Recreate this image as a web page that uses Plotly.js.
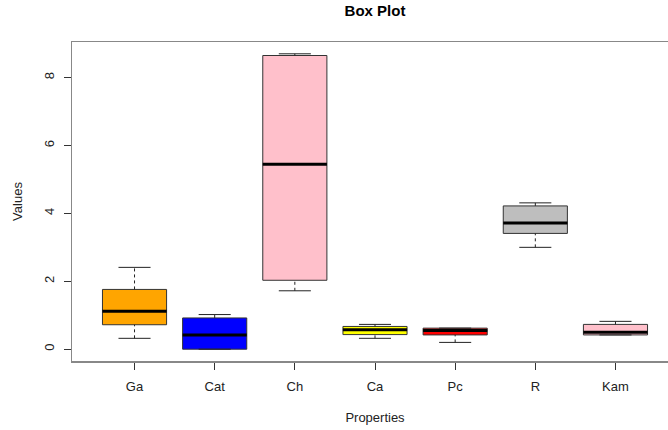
<!DOCTYPE html>
<html>
<head>
<meta charset="utf-8">
<script src="https://cdn.plot.ly/plotly-3.0.1.min.js"></script>
<style>
html,body{margin:0;padding:0;overflow:hidden;background:#fff;width:668px;height:430px;}
#chart{width:679px;height:430px;}
</style>
</head>
<body>
<div id="chart"></div>
<script>
const categories = ["Ga", "Cat", "Ch", "Ca", "Pc", "R", "Kam"];
const lowerWhisker = [0.32, 0.00, 1.72, 0.32, 0.20, 3.00, 0.42];
const q1 = [0.72, 0.00, 2.03, 0.43, 0.42, 3.41, 0.42];
const median = [1.12, 0.42, 5.45, 0.57, 0.55, 3.72, 0.50];
const q3 = [1.76, 0.92, 8.65, 0.67, 0.62, 4.22, 0.73];
const upperWhisker = [2.41, 1.02, 8.70, 0.73, 0.62, 4.31, 0.82];
const fillColors = ["orange", "blue", "pink", "yellow", "red", "#BEBEBE", "pink"];

const pos = categories.map((c, i) => i + 1);
const half = 0.4, stapleHalf = 0.2;
const traces = [];

// dashed whiskers
const wx = [], wy = [];
pos.forEach((p, i) => {
  wx.push(p, p, null, p, p, null);
  wy.push(q3[i], upperWhisker[i], null, lowerWhisker[i], q1[i], null);
});
traces.push({type: "scatter", mode: "lines", x: wx, y: wy, hoverinfo: "skip",
  line: {color: "#222", width: 1, dash: "3px,3px"}, showlegend: false});

// staples
const sx = [], sy = [];
pos.forEach((p, i) => {
  sx.push(p - stapleHalf, p + stapleHalf, null, p - stapleHalf, p + stapleHalf, null);
  sy.push(upperWhisker[i], upperWhisker[i], null, lowerWhisker[i], lowerWhisker[i], null);
});
traces.push({type: "scatter", mode: "lines", x: sx, y: sy, hoverinfo: "skip",
  line: {color: "#222", width: 1}, showlegend: false});

// boxes
categories.forEach((c, i) => {
  traces.push({
    type: "box", name: c, x: [pos[i]],
    q1: [q1[i]], median: [median[i]], q3: [q3[i]],
    lowerfence: [q1[i]], upperfence: [q3[i]],
    width: 0.8, whiskerwidth: 0,
    fillcolor: fillColors[i],
    line: {color: "#333", width: 1},
    showlegend: false, hoverinfo: "skip"
  });
});

// medians
const mx = [], my = [];
pos.forEach((p, i) => {
  mx.push(p - half, p + half, null);
  my.push(median[i], median[i], null);
});
traces.push({type: "scatter", mode: "lines", x: mx, y: my, hoverinfo: "skip",
  line: {color: "#000", width: 3}, showlegend: false});

const font = {family: "Liberation Sans, Arial, sans-serif", size: 13, color: "#222"};

const layout = {
  width: 679, height: 430,
  margin: {l: 72, r: 1, t: 42, b: 69},
  paper_bgcolor: "#fff", plot_bgcolor: "#fff",
  boxmode: "overlay",
  showlegend: false,
  font: font,
  title: {text: "<b>Box Plot</b>", x: 0.5, xref: "paper", y: 0.975, yref: "container",
    xanchor: "center", yanchor: "middle",
    font: {family: "Liberation Sans, Arial, sans-serif", size: 15, color: "#000"}},
  xaxis: {
    range: [0.22, 7.78], tickvals: pos, ticktext: categories,
    showgrid: false, zeroline: false,
    showline: true, mirror: true, linecolor: "#888", linewidth: 1.5,
    ticks: "outside", ticklen: 7, tickcolor: "#333", tickwidth: 1,
    ticklabelstandoff: 6,
    tickfont: font,
    title: {text: "Properties", font: font, standoff: 20}
  },
  yaxis: {
    range: [-0.348, 9.048], tickvals: [0, 2, 4, 6, 8],
    showgrid: false, zeroline: false,
    showline: true, mirror: true, linecolor: "#888", linewidth: 1.5,
    ticks: "outside", ticklen: 7, tickcolor: "#333", tickwidth: 1,
    tickangle: -90,
    ticklabelstandoff: 4,
    tickfont: font,
    title: {text: "Values", font: font, standoff: 16}
  }
};

Plotly.newPlot("chart", traces, layout, {displayModeBar: false, staticPlot: true});
</script>
</body>
</html>
